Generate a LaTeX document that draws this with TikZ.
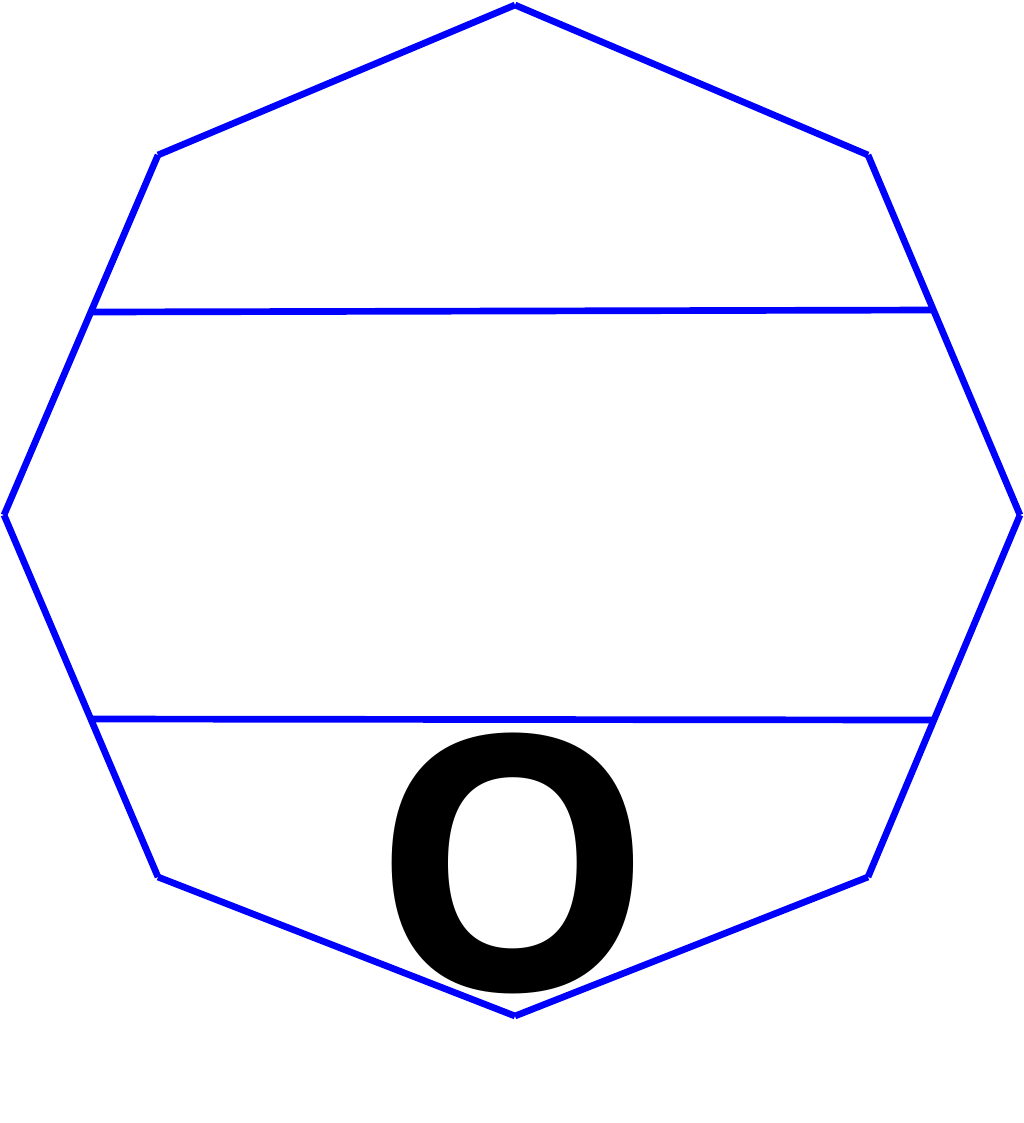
\documentclass[tikz,border=0pt]{standalone}
\usepackage{fontspec}
\setmainfont{Open Sans}

\begin{document}
\begin{tikzpicture}[x=0.01cm,y=-0.01cm,
		edge/.style={blue, line width=1.9pt},
		letter/.style={anchor=base, inner sep=0pt, font=\fontsize{101}{101}\bfseries\selectfont}]
		\useasboundingbox (0,0) rectangle (1024,1123);
		% octagon corners
		\coordinate (top) at (515,5);
		\coordinate (tr) at (868,155);
		\coordinate (right) at (1020,515);
		\coordinate (br) at (868,877);
		\coordinate (bottom) at (515,1016);
		\coordinate (bl) at (158,877);
		\coordinate (left) at (4,515);
		\coordinate (tl) at (158,155);
		\foreach \a/\b in {top/tr, tr/right, right/br, br/bottom, bottom/bl, bl/left, left/tl, tl/top}
			\draw[edge] (\a) -- (\b);
		% chords
		\coordinate (upl) at (92,312);
		\coordinate (upr) at (932,310);
		\coordinate (lowl) at (92,719);
		\coordinate (lowr) at (932,720);
		\draw[edge] (upl) -- (upr);
		\draw[edge] (lowl) -- (lowr);
		\node[letter] (label) at (513,990) {O};
	\end{tikzpicture}
\end{document}
